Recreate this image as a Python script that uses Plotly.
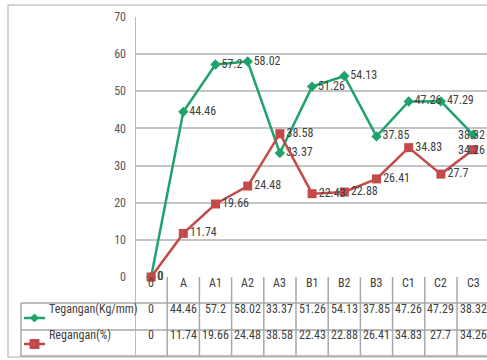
import plotly.graph_objects as go

categories = ["0", "A", "A1", "A2", "A3", "B1", "B2", "B3", "C1", "C2", "C3"]
tegangan = [0, 44.46, 57.2, 58.02, 33.37, 51.26, 54.13, 37.85, 47.26, 47.29, 38.32]
regangan = [0, 11.74, 19.66, 24.48, 38.58, 22.43, 22.88, 26.41, 34.83, 27.7, 34.26]
series_names = ["Tegangan(Kg/mm)", "Regangan(%)"]
y_ticks = [0, 10, 20, 30, 40, 50, 60, 70]

GREEN = "#1fa36a"
RED = "#c44a4a"
TXT = "#404040"
FONT = "Liberation Sans Narrow, Arial Narrow, Roboto Condensed, sans-serif"

W, H = 487, 360
L, T, B = 135, 17, 277  # plot area pixel box (left, top, bottom)
PW = W - L
PH = B - T
COLW = 32.2

def px(xp):
    return (xp - L) / PW

def py(yp):
    return (B - yp) / PH

xs = list(range(len(categories)))
fmt = lambda v: ("%g" % v)
last = len(categories) - 1

fig = go.Figure()
for vals, name, col, sym, sz in [(tegangan, series_names[0], GREEN, "diamond", 8),
                                 (regangan, series_names[1], RED, "square", 9)]:
    fig.add_trace(go.Scatter(
        x=xs, y=vals, mode="lines+markers+text", name=name,
        line=dict(color=col, width=2.5),
        marker=dict(symbol=sym, size=sz, color=col),
        text=[fmt(v) if i < last else "" for i, v in enumerate(vals)],
        textposition="middle right",
        textfont=dict(family=FONT, size=12, color=TXT), cliponaxis=False))

shapes = []
annots = []
LINE = dict(color="#a8a8a8", width=1.5)

# last labels pushed inside the chart edge (as Excel does)
for vals in (tegangan, regangan):
    annots.append(dict(x=1.0, y=vals[last], xref="paper", yref="y", text=fmt(vals[last]),
                       showarrow=False, xanchor="right",
                       font=dict(family=FONT, size=12, color=TXT)))

# outer frame
shapes.append(dict(type="rect", xref="paper", yref="paper",
                   x0=px(8), x1=px(W + 5), y0=py(357), y1=py(5),
                   line=dict(color="#c8c8c8", width=1.5)))
# left border of plot area / table
shapes.append(dict(type="line", xref="x", yref="paper", x0=-0.5, x1=-0.5,
                   y0=py(356), y1=1, line=LINE))
# column separators in table
for i in range(len(categories)):
    shapes.append(dict(type="line", xref="x", yref="paper", x0=i + 0.5, x1=i + 0.5,
                       y0=py(356), y1=0, line=LINE))
# row lines
for yy in (303, 330, 356):
    shapes.append(dict(type="line", xref="paper", yref="paper", x0=px(21), x1=1.02,
                       y0=py(yy), y1=py(yy), line=LINE))
shapes.append(dict(type="line", xref="paper", yref="paper", x0=px(21), x1=px(21),
                   y0=py(356), y1=py(303), line=LINE))

row_px = [292, 318, 344]
row_y = [py(v) for v in row_px]
for i, c in enumerate(categories):
    annots.append(dict(x=i, y=row_y[0], xref="x", yref="paper", text=c, showarrow=False,
                       font=dict(family=FONT, size=12, color=TXT)))
    annots.append(dict(x=i, y=row_y[1], xref="x", yref="paper", text=fmt(tegangan[i]),
                       showarrow=False, font=dict(family=FONT, size=12, color=TXT)))
    annots.append(dict(x=i, y=row_y[2], xref="x", yref="paper", text=fmt(regangan[i]),
                       showarrow=False, font=dict(family=FONT, size=12, color=TXT)))

# legend keys in the table
kx = 34.5
for k, (name, col) in enumerate([(series_names[0], GREEN), (series_names[1], RED)]):
    yp = row_px[k + 1]
    yk = py(yp)
    shapes.append(dict(type="line", xref="paper", yref="paper", x0=px(24), x1=px(45),
                       y0=yk, y1=yk, line=dict(color=col, width=2.5)))
    if k == 0:
        d = 4
        path = "M %f %f L %f %f L %f %f L %f %f Z" % (
            px(kx - d), py(yp), px(kx), py(yp - d), px(kx + d), py(yp), px(kx), py(yp + d))
        shapes.append(dict(type="path", xref="paper", yref="paper", path=path,
                           fillcolor=col, line=dict(color=col, width=1)))
    else:
        d = 4.5
        shapes.append(dict(type="rect", xref="paper", yref="paper",
                           x0=px(kx - d), x1=px(kx + d), y0=py(yp + d), y1=py(yp - d),
                           fillcolor=col, line=dict(color=col, width=1)))
    annots.append(dict(x=px(47), y=yk, xref="paper", yref="paper", text=name,
                       showarrow=False, xanchor="left",
                       font=dict(family=FONT, size=12, color=TXT)))

fig.update_layout(
    width=W, height=H, margin=dict(l=L, r=0, t=T, b=H - B),
    paper_bgcolor="white", plot_bgcolor="white", showlegend=False,
    shapes=shapes, annotations=annots,
    xaxis=dict(range=[-0.5, -0.5 + PW / COLW], showticklabels=False, showgrid=False,
               zeroline=False, showline=False, fixedrange=True),
    yaxis=dict(range=[0, 70], tickvals=y_ticks, showgrid=True, gridcolor="#c4c4c4",
               gridwidth=1.5, zeroline=False, showline=False, ticks="",
               tickfont=dict(family=FONT, size=12, color="#595959"),
               ticklabelstandoff=8),
)

fig.write_html("out.html")
